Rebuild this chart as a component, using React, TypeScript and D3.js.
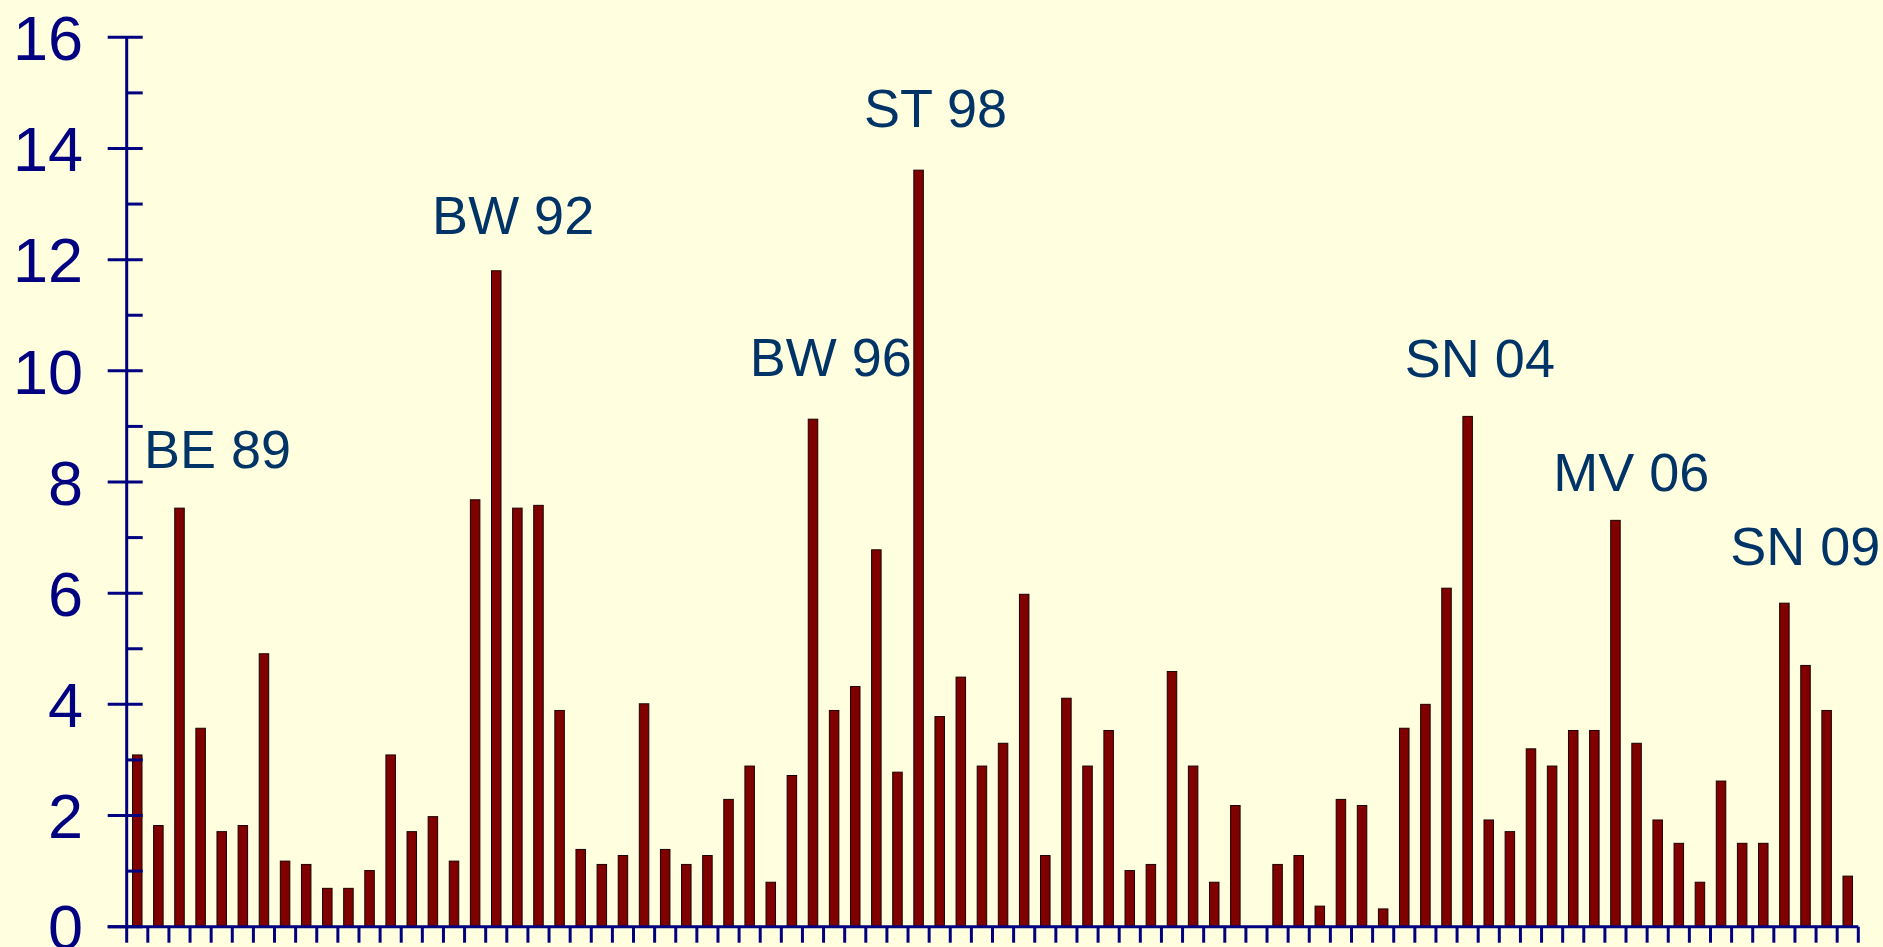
import * as d3 from 'd3'

// bar heights, one per slot, read left to right
const values = [
  3.09, 1.82, 7.53, 3.57, 1.71, 1.82, 4.91, 1.18, 1.12, 0.69,
  0.69, 1.01, 3.09, 1.71, 1.98, 1.18, 7.68, 11.8, 7.53, 7.58,
  3.89, 1.39, 1.12, 1.28, 4.01, 1.39, 1.12, 1.28, 2.29, 2.89,
  0.8, 2.72, 9.13, 3.89, 4.32, 6.78, 2.78, 13.61, 3.78, 4.49,
  2.89, 3.3, 5.98, 1.28, 4.11, 2.89, 3.53, 1.01, 1.12, 4.59,
  2.89, 0.8, 2.18, 0, 1.12, 1.28, 0.37, 2.29, 2.18, 0.32,
  3.57, 4.0, 6.09, 9.18, 1.92, 1.71, 3.2, 2.89, 3.53, 3.53,
  7.31, 3.3, 1.92, 1.5, 0.8, 2.62, 1.5, 1.5, 5.82, 4.7,
  3.89, 0.91,
]

const yTicks = [0, 2, 4, 6, 8, 10, 12, 14, 16]
const yMinorTicks = [1, 3, 5, 7, 9, 11, 13, 15]

// annotations: text, slot position (in slots from the left) and value level of the baseline
const noteTexts = ['BE 89', 'BW 92', 'BW 96', 'ST 98', 'SN 04', 'MV 06', 'SN 09']
const noteSlots = [4.3, 18.3, 33.34, 38.3, 64.08, 71.25, 79.49]
const noteLevels = [8.25, 12.47, 9.91, 14.38, 9.89, 7.84, 6.51]

const width = 1883
const height = 947
const left = 126.7
const right = 1858.3
const top = 37.3
const bottom = 926.7
const font = 'Arial, "Liberation Sans", sans-serif'
const axisColor = '#000080'

export default function App() {
  const x = d3
    .scaleBand<number>()
    .domain(values.map((_, i) => i))
    .range([left, right])
    .padding(0)
  const slot = d3.scaleLinear().domain([0, values.length]).range([left, right])
  const y = d3.scaleLinear().domain([0, 16]).range([bottom, top])
  const barWidth = x.bandwidth() * 0.45

  return (
    <div style={{ position: 'absolute', left: 0, top: 0, width, height, background: '#FFFFE0' }}>
      <svg width={width} height={height} style={{ display: 'block' }}>
        <rect width={width} height={height} fill="#FFFFE0" />

        {values.map((v, i) => (
          <rect
            key={i}
            x={(x(i) ?? 0) + (x.bandwidth() - barWidth) / 2}
            y={y(v)}
            width={barWidth}
            height={bottom - y(v)}
            fill="#800000"
            stroke={v > 0 ? '#1a0000' : 'none'}
            strokeWidth={1}
          />
        ))}

        {/* y axis */}
        <line x1={left} x2={left} y1={top} y2={bottom} stroke={axisColor} strokeWidth={3} />
        {yTicks.map((t) => (
          <g key={t}>
            <line x1={left - 19} x2={left + 16} y1={y(t)} y2={y(t)} stroke={axisColor} strokeWidth={3} />
            <text
              x={83}
              y={y(t)}
              dy="0.36em"
              textAnchor="end"
              fill={axisColor}
              fontFamily={font}
              fontSize={63}
            >
              {t}
            </text>
          </g>
        ))}
        {yMinorTicks.map((t) => (
          <line key={t} x1={left} x2={left + 16} y1={y(t)} y2={y(t)} stroke={axisColor} strokeWidth={3} />
        ))}

        {/* x axis */}
        <line x1={left - 19} x2={right} y1={bottom} y2={bottom} stroke={axisColor} strokeWidth={3} />
        {d3.range(values.length + 1).map((i) => (
          <line
            key={i}
            x1={slot(i)}
            x2={slot(i)}
            y1={bottom}
            y2={bottom + 16}
            stroke={axisColor}
            strokeWidth={3}
          />
        ))}

        {noteTexts.map((t, i) => (
          <text
            key={t}
            x={slot(noteSlots[i])}
            y={y(noteLevels[i])}
            textAnchor="middle"
            fill="#003366"
            fontFamily={font}
            fontSize={54}
          >
            {t}
          </text>
        ))}
      </svg>
    </div>
  )
}
